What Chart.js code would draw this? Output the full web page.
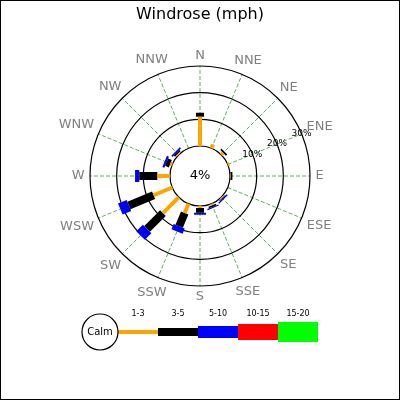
<!DOCTYPE html>
<html>
<head>
<meta charset="utf-8">
<script src="https://cdn.jsdelivr.net/npm/chart.js@4.4.1/dist/chart.umd.min.js"></script>
<style>
  html, body { margin: 0; padding: 0; background: #fff; }
  #wrap { width: 400px; height: 400px; position: relative; }
</style>
</head>
<body>
<div id="wrap"><canvas id="rose"></canvas></div>
<script>
// wind directions, clockwise from north
var directions = ['N', 'NNE', 'NE', 'ENE', 'E', 'ESE', 'SE', 'SSE', 'S', 'SSW', 'SW', 'WSW', 'W', 'WNW', 'NW', 'NNW'];
var speedClasses = ['1-3', '3-5', '5-10', '10-15', '15-20'];
var classColors = ['#ffa500', '#000000', '#0000ff', '#ff0000', '#00ff00'];
var classWidths = [4, 8, 12, 16, 20];
var calmPct = 4;
var radialTicks = [10, 20, 30];

// percent of time per direction, per speed class
var speed_1_3   = [11, 1.5, 1.0, 0.6, 0.2, 0, 0.4, 0.6, 0.75, 3.75, 8.4, 7.6, 4.75, 0.8, 0.5, 0];
var speed_3_5   = [1.5, 0, 0.7, 0, 0.7, 0, 0.3, 0.6, 1.75, 5.4, 8.4, 10, 6.75, 1.5, 0.6, 0];
var speed_5_10  = [0, 0, 0, 0, 0, 0, 0.5, 0.5, 0.75, 2.1, 3.5, 3.5, 1.6, 0.8, 0.6, 0];
var speed_10_15 = [0, 0, 0, 0, 0, 0, 0, 0, 0, 0, 0, 0, 0, 0, 0, 0];
var speed_15_20 = [0, 0, 0, 0, 0, 0, 0, 0, 0, 0, 0, 0, 0, 0, 0, 0];
var speedSeries = [speed_1_3, speed_3_5, speed_5_10, speed_10_15, speed_15_20];

// layout: 1 percent = pxPerPct pixels, the calm circle takes the first 30px
var pxPerPct = 80 / 30;
var calmOffset = 30 / pxPerPct;
var centerX = 200, centerY = 176;

function polar(pct, idx) {
    var a = idx * 2 * Math.PI / directions.length;
    var r = calmOffset + pct;
    return {x: r * Math.sin(a), y: r * Math.cos(a)};
}

var datasets = [];
for (var c = 0; c < speedSeries.length; c++) {
    var pts = [];
    for (var d = 0; d < directions.length; d++) {
        var base = 0;
        for (var k = 0; k < c; k++) base += speedSeries[k][d];
        var v = speedSeries[c][d];
        if (v <= 0) continue;
        pts.push(polar(base, d));
        pts.push(polar(base + v, d));
        pts.push({x: null, y: null});
    }
    datasets.push({
        label: speedClasses[c],
        data: pts,
        showLine: true,
        spanGaps: false,
        borderColor: classColors[c],
        borderWidth: classWidths[c],
        borderCapStyle: 'butt',
        borderJoinStyle: 'bevel',
        borderDash: [5000, 0], // keeps chart.js off its pixel-merging fast path
        pointRadius: 0,
        tension: 0
    });
}

var roseDecor = {
    id: 'roseDecor',
    beforeDatasetsDraw: function (chart) {
        var ctx = chart.ctx, sx = chart.scales.x, sy = chart.scales.y;
        var cx = sx.getPixelForValue(0), cy = sy.getPixelForValue(0);
        var outer = sx.getPixelForValue(calmOffset + radialTicks[radialTicks.length - 1]) - cx;
        var calmR = sx.getPixelForValue(calmOffset) - cx;
        ctx.save();
        // spokes
        ctx.strokeStyle = 'rgba(20,130,20,0.75)';
        ctx.lineWidth = 0.9;
        ctx.setLineDash([4, 2]);
        for (var i = 0; i < directions.length; i++) {
            var a = i * 2 * Math.PI / directions.length;
            ctx.beginPath();
            ctx.moveTo(cx + calmR * Math.sin(a), cy - calmR * Math.cos(a));
            ctx.lineTo(cx + outer * Math.sin(a), cy - outer * Math.cos(a));
            ctx.stroke();
        }
        ctx.setLineDash([]);
        // rings
        ctx.strokeStyle = '#000';
        ctx.lineWidth = 1.2;
        radialTicks.forEach(function (t) {
            var r = sx.getPixelForValue(calmOffset + t) - cx;
            ctx.beginPath();
            ctx.arc(cx, cy, r, 0, 2 * Math.PI);
            ctx.stroke();
        });
        // calm circle
        ctx.fillStyle = '#fff';
        ctx.beginPath();
        ctx.arc(cx, cy, calmR, 0, 2 * Math.PI);
        ctx.fill();
        ctx.stroke();
        ctx.fillStyle = '#000';
        ctx.textAlign = 'center';
        ctx.textBaseline = 'middle';
        ctx.font = '13px "DejaVu Sans"';
        ctx.fillText(calmPct + '%', cx, cy);
        // ring labels along ENE
        ctx.font = '9px "DejaVu Sans"';
        var la = 3 * 2 * Math.PI / directions.length;
        radialTicks.forEach(function (t) {
            var r = sx.getPixelForValue(calmOffset + t) - cx;
            ctx.fillText(t + '%', cx + r * Math.sin(la), cy - r * Math.cos(la));
        });
        // direction labels, pushed out by their own half size
        ctx.fillStyle = '#808080';
        ctx.font = '13px "DejaVu Sans"';
        for (var j = 0; j < directions.length; j++) {
            var b = j * 2 * Math.PI / directions.length;
            var hw = ctx.measureText(directions[j]).width / 2;
            var rr = outer + 5.5 + hw * Math.abs(Math.sin(b)) + 5 * Math.abs(Math.cos(b));
            ctx.fillText(directions[j], cx + rr * Math.sin(b), cy - rr * Math.cos(b));
        }
        ctx.restore();
    },
    afterDraw: function (chart) {
        var ctx = chart.ctx;
        ctx.save();
        ctx.textAlign = 'center';
        ctx.textBaseline = 'middle';
        // title
        ctx.fillStyle = '#000';
        ctx.font = '16px "DejaVu Sans"';
        ctx.fillText('Windrose (mph)', 200, 15);
        // legend
        var ly = 332, lx = 118, segW = 40;
        for (var i = 0; i < speedClasses.length; i++) {
            var h = classWidths[i];
            ctx.fillStyle = classColors[i];
            ctx.fillRect(lx + i * segW, ly - h / 2, segW, h);
            ctx.fillStyle = '#000';
            ctx.font = '8px "DejaVu Sans"';
            ctx.fillText(speedClasses[i], lx + i * segW + segW / 2, 314);
        }
        ctx.fillStyle = '#fff';
        ctx.strokeStyle = '#000';
        ctx.lineWidth = 1.2;
        ctx.beginPath();
        ctx.arc(100, ly, 18, 0, 2 * Math.PI);
        ctx.fill();
        ctx.stroke();
        ctx.fillStyle = '#000';
        ctx.font = '10px "DejaVu Sans"';
        ctx.fillText('Calm', 100, ly);
        // frame
        ctx.lineWidth = 1;
        ctx.strokeRect(0.5, 0.5, 399, 399);
        ctx.restore();
    }
};

new Chart(document.getElementById('rose').getContext('2d'), {
    type: 'scatter',
    data: {datasets: datasets},
    options: {
        responsive: true,
        maintainAspectRatio: false,
        animation: false,
        events: [],
        layout: {padding: 0},
        scales: {
            x: {display: false, min: -centerX / pxPerPct, max: (400 - centerX) / pxPerPct},
            y: {display: false, min: -(400 - centerY) / pxPerPct, max: centerY / pxPerPct}
        },
        plugins: {legend: {display: false}, tooltip: {enabled: false}}
    },
    plugins: [roseDecor]
});
</script>
</body>
</html>
